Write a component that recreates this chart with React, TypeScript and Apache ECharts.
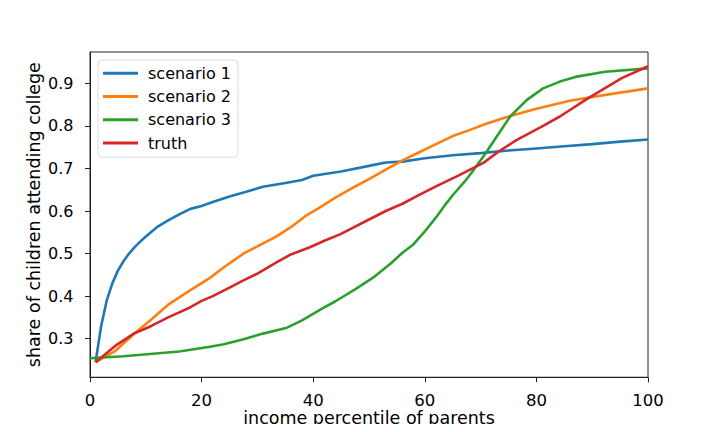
import React, { useEffect, useRef } from "react";
import * as echarts from "echarts";

const seriesNames = ["scenario 1", "scenario 2", "scenario 3", "truth"];
const colors = ["#1f77b4", "#ff7f0e", "#2ca02c", "#d62728"];

const scenario1: [number, number][] = [
  [1, 0.245], [2, 0.33], [3, 0.39], [4, 0.43], [5, 0.46], [6, 0.482], [7, 0.5], [8, 0.515],
  [9, 0.528], [10, 0.54], [12, 0.562], [14, 0.578], [16, 0.592], [18, 0.605], [20, 0.612],
  [22, 0.621], [25, 0.634], [28, 0.645], [31, 0.657], [35, 0.666], [38, 0.673], [40, 0.683],
  [45, 0.693], [50, 0.706], [53, 0.714], [56, 0.716], [60, 0.724], [65, 0.731], [70, 0.736],
  [75, 0.742], [80, 0.747], [85, 0.752], [90, 0.757], [95, 0.763], [100, 0.768],
];

const scenario2: [number, number][] = [
  [1, 0.245], [4.5, 0.271], [8, 0.313], [11, 0.345], [14, 0.38], [16, 0.397], [18, 0.414],
  [21.5, 0.443], [24, 0.468], [27.5, 0.5], [30, 0.517], [33.5, 0.541], [36, 0.562],
  [38.8, 0.59], [41, 0.607], [43.9, 0.631], [47, 0.654], [50, 0.675], [53, 0.697], [56, 0.719],
  [59, 0.738], [62, 0.757], [65, 0.776], [68, 0.79], [71, 0.805], [75, 0.822], [80, 0.84],
  [86, 0.859], [90, 0.868], [95, 0.878], [100, 0.888],
];

const scenario3: [number, number][] = [
  [0, 0.254], [6, 0.259], [16, 0.27], [21.5, 0.281], [24, 0.287], [27.5, 0.299], [31, 0.312],
  [35.3, 0.326], [38, 0.343], [41.5, 0.37], [44, 0.388], [47.5, 0.416], [51, 0.446],
  [54, 0.478], [56, 0.502], [58, 0.522], [60, 0.552], [62, 0.585], [63.5, 0.612], [65, 0.637],
  [67.2, 0.67], [68.5, 0.692], [70.5, 0.728], [72.9, 0.775], [75.3, 0.822], [78.3, 0.861],
  [81.2, 0.888], [84.2, 0.904], [87, 0.915], [92.3, 0.927], [100, 0.935],
];

const truth: [number, number][] = [
  [1, 0.245], [4.5, 0.283], [8, 0.313], [11, 0.33], [14, 0.35], [16, 0.362], [18, 0.374],
  [20, 0.389], [22, 0.4], [25, 0.42], [27.5, 0.437], [30, 0.453], [33.5, 0.48], [36, 0.498],
  [39.4, 0.515], [42, 0.53], [44.8, 0.545], [47, 0.56], [50, 0.58], [53, 0.6], [56, 0.617],
  [59, 0.638], [62, 0.658], [66, 0.683], [70.5, 0.713], [73.5, 0.742], [76.5, 0.767],
  [81.2, 0.8], [84.2, 0.822], [89.3, 0.865], [95.3, 0.912], [100, 0.94],
];

const yTicks = [0.3, 0.4, 0.5, 0.6, 0.7, 0.8, 0.9];
const xTicks = [0, 20, 40, 60, 80, 100];

const FONT = "DejaVu Sans";

export default function App() {
  const ref = useRef<HTMLDivElement>(null);
  useEffect(() => {
    if (!ref.current) return;
    const chart = echarts.init(ref.current, null, { renderer: "svg" });
    const data = [scenario1, scenario2, scenario3, truth];
    chart.setOption({
      animation: false,
      backgroundColor: "#ffffff",
      textStyle: { fontFamily: FONT },
      grid: {
        left: 90,
        right: 72,
        top: 52,
        bottom: 53,
        show: true,
        borderColor: "#222",
        borderWidth: 1,
        backgroundColor: "transparent",
      },
      legend: {
        orient: "vertical",
        left: 98,
        top: 60,
        data: seriesNames,
        icon: "rect",
        itemWidth: 35,
        itemHeight: 3,
        itemGap: 7,
        padding: [5, 7, 6, 5],
        backgroundColor: "#ffffff",
        borderColor: "#dddddd",
        borderWidth: 1,
        borderRadius: 4,
        textStyle: {
          fontFamily: FONT,
          fontSize: 16,
          color: "#000",
          lineHeight: 16.3,
          padding: [0, 0, 0, 5],
        },
      },
      xAxis: {
        type: "value",
        min: 0,
        max: 100,
        interval: 20,
        name: "income percentile of parents",
        nameLocation: "middle",
        nameGap: 32,
        nameMoveOverlap: false,
        nameTextStyle: { fontFamily: FONT, fontSize: 17.5, color: "#000", lineHeight: 17.5 },
        axisLine: { show: true, lineStyle: { color: "#222", width: 1 } },
        axisTick: { show: true, length: 5, lineStyle: { color: "#222" } },
        axisLabel: {
          fontFamily: FONT,
          fontSize: 16.5,
          lineHeight: 16,
          color: "#000",
          margin: 15,
          customValues: xTicks,
        },
        splitLine: { show: false },
      },
      yAxis: {
        type: "value",
        min: 0.2095,
        max: 0.9735,
        name: "share of children attending college",
        nameLocation: "middle",
        nameGap: 47,
        nameMoveOverlap: false,
        nameTextStyle: { fontFamily: FONT, fontSize: 17.5, color: "#000" },
        axisLine: { show: true, lineStyle: { color: "#222", width: 1 } },
        axisTick: { show: true, length: 5, lineStyle: { color: "#222" }, customValues: yTicks },
        axisLabel: {
          fontFamily: FONT,
          fontSize: 16,
          color: "#000",
          margin: 16.5,
          customValues: yTicks,
          formatter: (v: number) => v.toFixed(1),
        },
        splitLine: { show: false },
      },
      series: seriesNames.map((name, i) => ({
        name,
        type: "line",
        data: data[i],
        showSymbol: false,
        symbol: "none",
        color: colors[i],
        lineStyle: { width: 2.6, color: colors[i] },
        z: 2 + i,
      })),
    });
    return () => chart.dispose();
  }, []);
  return <div ref={ref} style={{ width: 720, height: 432, margin: -8 }} />;
}
